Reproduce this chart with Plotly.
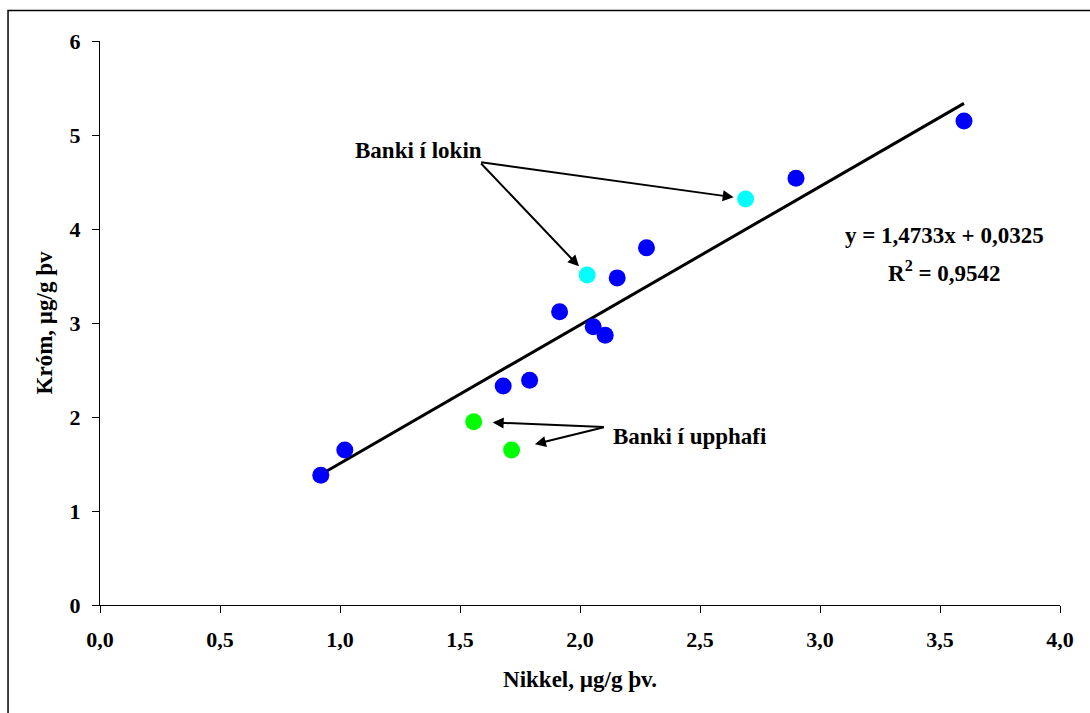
import plotly.graph_objects as go

# Data
nikkel_blue = [0.92, 1.02, 1.68, 1.79, 1.915, 2.055, 2.105, 2.155, 2.277, 2.90, 3.60]
krom_blue = [1.38, 1.65, 2.33, 2.39, 3.12, 2.96, 2.87, 3.48, 3.80, 4.54, 5.15]
nikkel_lokin = [2.03, 2.69]
krom_lokin = [3.51, 4.32]
nikkel_upphafi = [1.557, 1.715]
krom_upphafi = [1.95, 1.65]
slope = 1.4733
intercept = 0.0325
r2 = 0.9542
x_ticks = [0, 0.5, 1, 1.5, 2, 2.5, 3, 3.5, 4]
y_ticks = [0, 1, 2, 3, 4, 5, 6]

FONT = "Liberation Serif, Times New Roman, serif"

all_x = nikkel_blue + nikkel_lokin + nikkel_upphafi
x_min, x_max = min(all_x), max(all_x)
trend_x = [x_min, x_max]
trend_y = [slope * v + intercept for v in trend_x]

fig = go.Figure()
fig.add_trace(go.Scatter(x=trend_x, y=trend_y, mode="lines",
                         line=dict(color="black", width=3), hoverinfo="skip"))
fig.add_trace(go.Scatter(x=nikkel_blue, y=krom_blue, mode="markers",
                         marker=dict(color="#0000FF", size=17, line=dict(width=0))))
fig.add_trace(go.Scatter(x=nikkel_lokin, y=krom_lokin, mode="markers",
                         marker=dict(color="#00FFFF", size=17, line=dict(width=0))))
fig.add_trace(go.Scatter(x=nikkel_upphafi, y=krom_upphafi, mode="markers",
                         marker=dict(color="#00FF00", size=17, line=dict(width=0))))

tick_font = dict(family=FONT, size=22, color="black", weight="bold")
title_font = dict(family=FONT, size=23, color="black", weight="bold")
ann_font = dict(family=FONT, size=23, color="black", weight="bold")

annotations = []
# "Banki í lokin" label and arrows
lokin_tail = (1.582, 4.713)
annotations.append(dict(x=1.055, y=4.83, xref="x", yref="y", text="Banki í lokin",
                        showarrow=False, xanchor="left", yanchor="middle", font=ann_font))
for xp, yp in zip(nikkel_lokin, krom_lokin):
    annotations.append(dict(x=xp, y=yp, ax=lokin_tail[0], ay=lokin_tail[1],
                            xref="x", yref="y", axref="x", ayref="y", text="",
                            showarrow=True, arrowhead=2, arrowsize=1.1, arrowwidth=2,
                            arrowcolor="black", standoff=12))
# "Banki í upphafi" label and arrows
upp_tail = (2.106, 1.894)
annotations.append(dict(x=2.13, y=1.79, xref="x", yref="y", text="Banki í upphafi",
                        showarrow=False, xanchor="left", yanchor="middle", font=ann_font))
for xp, yp, so in zip(nikkel_upphafi, krom_upphafi, [19, 24]):
    annotations.append(dict(x=xp, y=yp, ax=upp_tail[0], ay=upp_tail[1],
                            xref="x", yref="y", axref="x", ayref="y", text="",
                            showarrow=True, arrowhead=2, arrowsize=1.1, arrowwidth=2,
                            arrowcolor="black", standoff=so))
# Equation
eq_text = "y = " + f"{slope:.4f}".replace(".", ",") + "x + " + f"{intercept:.4f}".replace(".", ",")
annotations.append(dict(x=3.52, y=3.93, xref="x", yref="y", text=eq_text,
                        showarrow=False, xanchor="center", yanchor="middle", font=ann_font))
annotations.append(dict(x=3.52, y=3.55, xref="x", yref="y",
                        text="R<sup>2</sup> = " + f"{r2:.4f}".replace(".", ","),
                        showarrow=False, xanchor="center", yanchor="middle", font=ann_font))

fig.update_layout(
    width=1090, height=713,
    margin=dict(l=100, r=30, t=41, b=108),
    paper_bgcolor="white", plot_bgcolor="white",
    showlegend=False,
    separators=", ",
    annotations=annotations,
    shapes=[dict(type="rect", xref="paper", yref="paper",
                 x0=-0.0958, x1=1.05, y0=-0.25, y1=1.0541,
                 line=dict(color="black", width=1.5), fillcolor="rgba(0,0,0,0)")],
)
fig.update_xaxes(range=[0, 4], tickvals=x_ticks, tickformat=".1f",
                 showgrid=False, zeroline=False, showline=True, linecolor="black", linewidth=1.2,
                 ticks="outside", ticklen=7, tickcolor="black", tickwidth=1.2,
                 tickfont=tick_font, ticklabelstandoff=7,
                 title=dict(text="Nikkel, µg/g þv.", font=title_font, standoff=20))
fig.update_yaxes(range=[0, 6], tickvals=y_ticks, tickformat="d",
                 showgrid=False, zeroline=False, showline=True, linecolor="black", linewidth=1.2,
                 ticks="outside", ticklen=7, tickcolor="black", tickwidth=1.2,
                 tickfont=tick_font, ticklabelstandoff=7,
                 title=dict(text="Króm, µg/g þv", font=title_font, standoff=10))

fig.write_html("out.html")
